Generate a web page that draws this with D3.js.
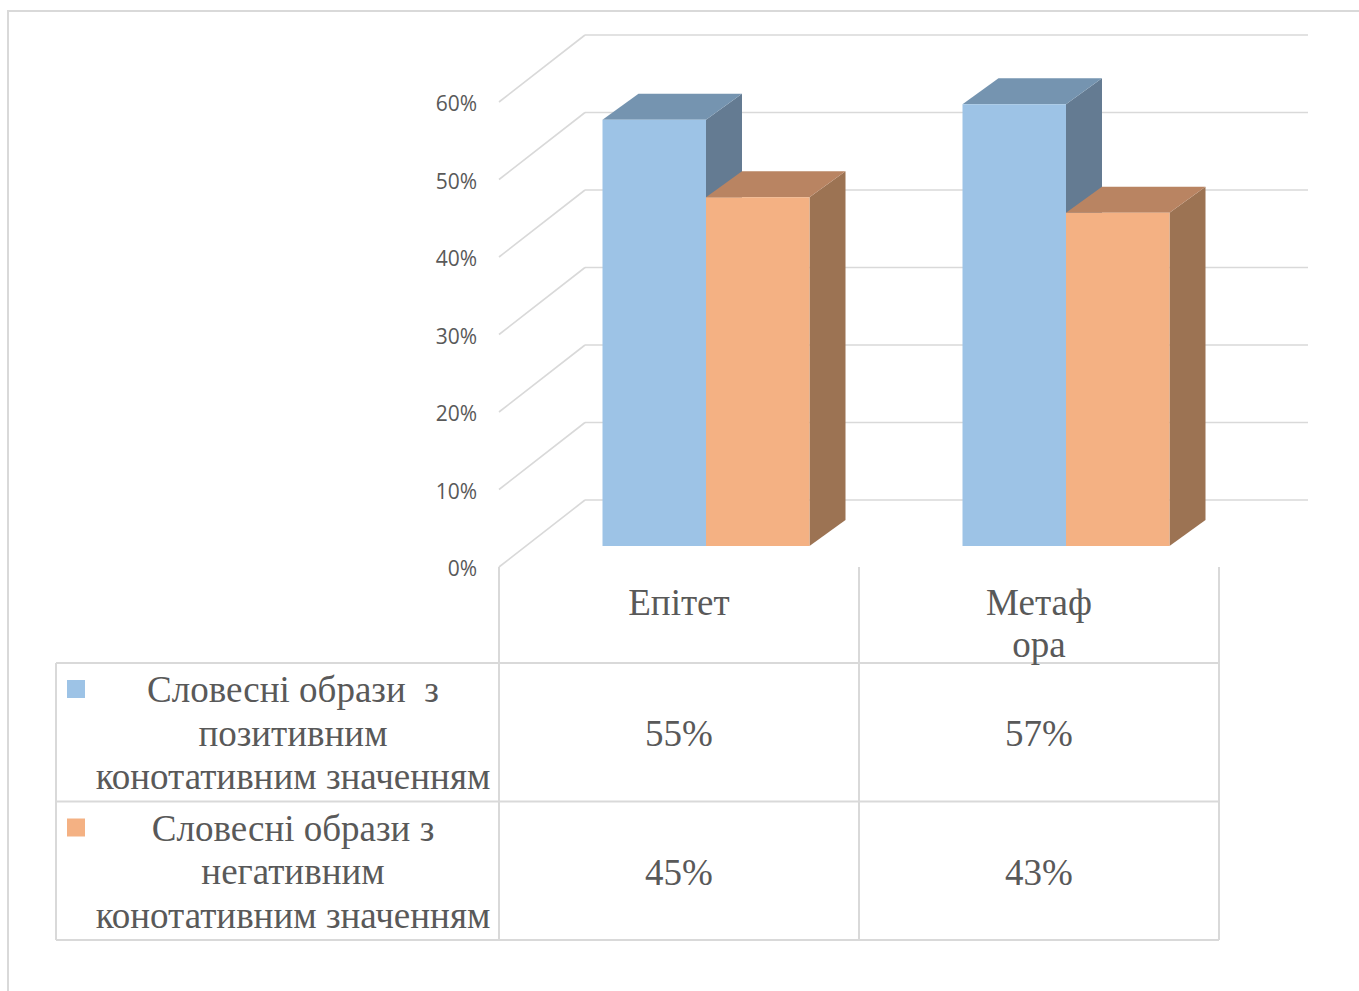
<!DOCTYPE html>
<html>
<head>
<meta charset="utf-8">
<script src="https://cdn.jsdelivr.net/npm/d3@7"></script>
<style>
  html, body { margin: 0; padding: 0; background: #fff; }
  svg { display: block; }
</style>
</head>
<body>
<svg id="chart" width="1359" height="991"></svg>
<script>
// ---- data ----
const categories = ["Епітет", "Метафора"];
const categoryLines = [["Епітет"], ["Метаф", "ора"]];
const seriesNames = [
  "Словесні образи з позитивним конотативним значенням",
  "Словесні образи з негативним конотативним значенням"
];
const seriesLines = [
  ["Словесні образи  з", "позитивним", "конотативним значенням"],
  ["Словесні образи з", "негативним", "конотативним значенням"]
];
const positiveValues = [0.55, 0.57];
const negativeValues = [0.45, 0.43];
const yTicks = [0, 0.1, 0.2, 0.3, 0.4, 0.5, 0.6];

const seriesValues = [positiveValues, negativeValues];
const palette = [
  { front: "#9dc3e6", top: "#7594b0", side: "#647b92" },
  { front: "#f4b183", top: "#b98462", side: "#9c7353" }
];

// ---- layout ----
const svg = d3.select("#chart");
const gridColor = "#d9d9d9";
const textColor = "#595959";
const serif = "'Liberation Serif', 'Times New Roman', serif";
const sans = "'Open Sans', 'Noto Sans', sans-serif";

const x = d3.scaleBand().domain(categories).range([499, 1219]).padding(0);
const y = d3.scaleLinear().domain([0, 0.6]).range([567, 102]);

// depth of the chart box (left wall / floor) and of each column
const wall = { dx: 86, dy: -67 };
const barShift = { dx: 27, dy: -21 };
const barDepth = { dx: 36, dy: -26 };
const groupWidth = 207;

const xs = d3.scaleBand()
  .domain(d3.range(seriesValues.length))
  .range([x.bandwidth() / 2 - groupWidth / 2, x.bandwidth() / 2 + groupWidth / 2])
  .padding(0);

// outer frame
svg.append("path")
  .attr("d", "M8,1000 L8,11 L1370,11")
  .attr("fill", "none")
  .attr("stroke", gridColor)
  .attr("stroke-width", 2);

// back wall gridlines
const backRight = x.range()[1] + wall.dx + 3;
svg.append("g").selectAll("line.back")
  .data(yTicks)
  .join("line")
  .attr("x1", x.range()[0] + wall.dx)
  .attr("x2", backRight)
  .attr("y1", d => y(d) + wall.dy)
  .attr("y2", d => y(d) + wall.dy)
  .attr("stroke", gridColor)
  .attr("stroke-width", 1.6);

// side wall gridlines
svg.append("g").selectAll("line.side")
  .data(yTicks)
  .join("line")
  .attr("x1", x.range()[0])
  .attr("y1", d => y(d))
  .attr("x2", x.range()[0] + wall.dx)
  .attr("y2", d => y(d) + wall.dy)
  .attr("stroke", gridColor)
  .attr("stroke-width", 1.6);

// value axis labels
const axis = d3.axisLeft(y)
  .tickValues(yTicks)
  .tickFormat(d3.format(".0%"))
  .tickSize(0)
  .tickPadding(22);
const axisG = svg.append("g")
  .attr("transform", `translate(${x.range()[0]},0)`)
  .call(axis);
axisG.select(".domain").remove();
axisG.selectAll("text")
  .attr("dy", "0.42em")
  .attr("fill", textColor)
  .style("font-family", sans)
  .style("font-size", "21px");

// 3D columns
const poly = pts => "M" + pts.map(p => p.join(",")).join("L") + "Z";
const bars = [];
categories.forEach((c, ci) => {
  seriesValues.forEach((vals, si) => {
    bars.push({ cat: c, si, value: vals[ci] });
  });
});

const barG = svg.append("g");
bars.forEach(b => {
  const x0 = x(b.cat) + xs(b.si) + barShift.dx;
  const x1 = x0 + xs.bandwidth();
  const yb = y(0) + barShift.dy;
  const yt = y(b.value) + barShift.dy;
  const c = palette[b.si];
  const g = barG.append("g");
  // right side
  g.append("path")
    .attr("d", poly([[x1, yt], [x1 + barDepth.dx, yt + barDepth.dy],
                     [x1 + barDepth.dx, yb + barDepth.dy], [x1, yb]]))
    .attr("fill", c.side);
  // top
  g.append("path")
    .attr("d", poly([[x0, yt], [x0 + barDepth.dx, yt + barDepth.dy],
                     [x1 + barDepth.dx, yt + barDepth.dy], [x1, yt]]))
    .attr("fill", c.top);
  // front
  g.append("rect")
    .attr("x", x0).attr("y", yt)
    .attr("width", x1 - x0).attr("height", yb - yt)
    .attr("fill", c.front);
});

// ---- data table ----
const tableTop = 663, rowH = 138.5;
const tableLeft = 56;
const tableRight = x.range()[1];
const rowsY = [tableTop, tableTop + rowH, tableTop + 2 * rowH];

const tbl = svg.append("g")
  .attr("stroke", gridColor)
  .attr("stroke-width", 2);
rowsY.forEach(ry => {
  tbl.append("line").attr("x1", tableLeft).attr("x2", tableRight)
    .attr("y1", ry).attr("y2", ry);
});
tbl.append("line").attr("x1", tableLeft).attr("x2", tableLeft)
  .attr("y1", tableTop).attr("y2", rowsY[2]);
[x.range()[0], ...categories.map(c => x(c) + x.bandwidth())].forEach(vx => {
  tbl.append("line").attr("x1", vx).attr("x2", vx)
    .attr("y1", y(0)).attr("y2", rowsY[2]);
});

// category labels
const catText = svg.append("g")
  .attr("fill", textColor)
  .style("font-family", serif)
  .style("font-size", "37px")
  .attr("text-anchor", "middle");
categories.forEach((c, ci) => {
  categoryLines[ci].forEach((ln, li) => {
    catText.append("text")
      .attr("x", x(c) + x.bandwidth() / 2)
      .attr("y", 615 + li * 42)
      .text(ln);
  });
});

// series rows: legend key, name, values
const rowText = svg.append("g")
  .attr("fill", textColor)
  .style("font-family", serif)
  .style("font-size", "37px");
seriesNames.forEach((name, si) => {
  const rTop = rowsY[si];
  rowText.append("rect")
    .attr("x", 67).attr("y", rTop + 17)
    .attr("width", 18).attr("height", 18)
    .attr("fill", palette[si].front);
  seriesLines[si].forEach((ln, li) => {
    rowText.append("text")
      .attr("x", 293)
      .attr("y", rTop + 39 + li * 43.5)
      .attr("text-anchor", "middle")
      .style("white-space", "pre")
      .text(ln);
  });
  categories.forEach((c, ci) => {
    rowText.append("text")
      .attr("x", x(c) + x.bandwidth() / 2)
      .attr("y", rTop + 83)
      .attr("text-anchor", "middle")
      .text(d3.format(".0%")(seriesValues[si][ci]));
  });
});
</script>
</body>
</html>
